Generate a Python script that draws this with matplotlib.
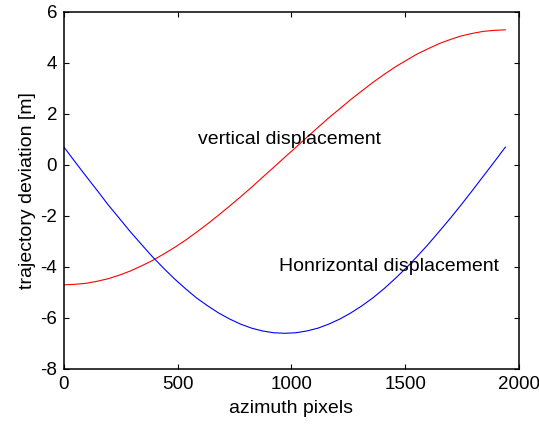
import matplotlib
matplotlib.use("Agg")
import matplotlib.pyplot as plt

plt.rcParams['font.family'] = ['Liberation Sans', 'DejaVu Sans']
plt.rcParams['axes.unicode_minus'] = False

# azimuth pixel positions
azimuth = [0, 48, 97, 146, 194, 243, 291, 340, 388, 437, 485, 534, 582, 631, 679,
           728, 776, 825, 873, 922, 970, 1019, 1067, 1116, 1164, 1213, 1261, 1310,
           1358, 1407, 1455, 1504, 1552, 1601, 1649, 1698, 1746, 1795, 1843, 1892, 1940]

# vertical displacement (red)
vertical = [-4.70, -4.68, -4.64, -4.56, -4.46, -4.32, -4.16, -3.96, -3.75, -3.50,
            -3.24, -2.95, -2.64, -2.31, -1.97, -1.61, -1.25, -0.87, -0.48, -0.09,
            0.30, 0.69, 1.08, 1.47, 1.85, 2.21, 2.57, 2.91, 3.24, 3.55,
            3.84, 4.10, 4.35, 4.56, 4.76, 4.92, 5.06, 5.16, 5.24, 5.28, 5.30]

# horizontal displacement (blue)
horizontal = [0.70, 0.13, -0.44, -1.00, -1.56, -2.09, -2.61, -3.11, -3.59, -4.04,
              -4.46, -4.85, -5.21, -5.52, -5.80, -6.04, -6.24, -6.40, -6.51, -6.58,
              -6.60, -6.58, -6.51, -6.40, -6.24, -6.04, -5.80, -5.52, -5.21, -4.85,
              -4.46, -4.04, -3.59, -3.11, -2.61, -2.09, -1.56, -1.00, -0.44, 0.13, 0.70]

fig = plt.figure(figsize=(5.39, 4.28), dpi=100)
ax = fig.add_axes([0.1187, 0.1379, 0.8442, 0.8341])

ax.plot(azimuth, vertical, color='r', linewidth=0.8)
ax.plot(azimuth, horizontal, color='b', linewidth=0.8)

ax.text(590, 1.0, 'vertical displacement', fontsize=14, va='center', ha='left')
ax.text(946, -4.0, 'Honrizontal displacement', fontsize=14, va='center', ha='left')

ax.set_xlim(0, 2000)
ax.set_ylim(-8, 6)
ax.set_xticks([0, 500, 1000, 1500, 2000])
ax.set_yticks([-8, -6, -4, -2, 0, 2, 4, 6])
ax.tick_params(direction='in', top=True, right=True, length=3.5, width=0.8,
               labelsize=13.5, pad=5)
for sp in ax.spines.values():
    sp.set_linewidth(1.1)

ax.set_xlabel('azimuth pixels', fontsize=14, labelpad=5)
ax.set_ylabel('trajectory deviation [m]', fontsize=14, labelpad=3)

fig.savefig('out.png', dpi=100)
